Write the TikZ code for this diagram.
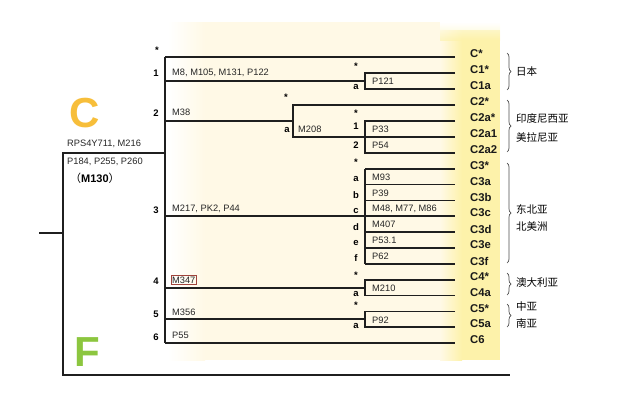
\documentclass[tikz,border=0pt]{standalone}
\usepackage{fontspec}
\setmainfont{Liberation Sans}
\newfontfamily\cjk{Noto Sans CJK SC}
\usetikzlibrary{decorations.pathreplacing}
\definecolor{cream}{HTML}{FFF9E6}
\definecolor{bandyellow}{HTML}{FDF2AA}
\definecolor{cyellow}{HTML}{F7BE3A}
\definecolor{fgreen}{HTML}{8CC63F}
\definecolor{boxred}{HTML}{A0443C}
\begin{document}
\begin{tikzpicture}[x=1pt,y=-1pt,
  tree/.style={line width=1.4pt, draw=black!88},
  mk/.style={font=\fontsize{9.3}{10}\selectfont, anchor=west, inner sep=0pt, text=black!85},
  num/.style={font=\bfseries\fontsize{9.5}{10}\selectfont, inner sep=0pt},
  hap/.style={font=\bfseries\fontsize{11.3}{12}\selectfont, anchor=west, inner sep=0pt, text=black!90},
  reg/.style={font=\cjk\fontsize{10.5}{11}\selectfont, anchor=west, inner sep=0pt},
  brc/.style={decorate, decoration={brace, amplitude=4pt}, line width=0.7pt, draw=black!70},
  big/.style={font=\bfseries\fontsize{42}{42}\selectfont, inner sep=0pt}]
\useasboundingbox (0,0) rectangle (624,407);
% background
\shade[left color=white, right color=cream] (168,22) rectangle (205,360);
\fill[cream] (205,22) rectangle (440,360);
\shade[left color=cream, right color=bandyellow] (440,30) rectangle (462,360);
\fill[bandyellow] (462,30) rectangle (500,360);
\shade[top color=white, bottom color=bandyellow, opacity=0.6] (440,22) rectangle (500,40);
% big letters
\node[big, text=cyellow] (bigC) at (85,113) {C};
\node[big, text=fgreen] (bigF) at (87,352) {F};
% coordinates
\coordinate (stubL) at (39,233);
\coordinate (stubR) at (63,233);
\coordinate (rootT) at (63,153);
\coordinate (rootB) at (63,375);
\coordinate (baseR) at (510,375);
\coordinate (mainJ) at (165,153);
\coordinate (mainT) at (165,57);
\coordinate (mainB) at (165,343);
% root
\draw[tree] (stubL) -- (stubR);
\draw[tree] (mainJ) -- (rootT) -- (rootB) -- (baseR);
\draw[tree] (mainT) -- (mainB);
% C*
\draw[tree] (mainT) -- (455,57);
% clade 1
\draw[tree] (165,81) -- (365,81);
\draw[tree] (455,73) -- (365,73) -- (365,89) -- (455,89);
% clade 2
\draw[tree] (165,121) -- (293,121);
\draw[tree] (455,105) -- (293,105) -- (293,137) -- (365,137);
\draw[tree] (455,121) -- (365,121) -- (365,153) -- (455,153);
\draw[tree] (365,137) -- (455,137);
% clade 3
\draw[tree] (165,216) -- (455,216);
\draw[tree] (365,169) -- (365,264);
\foreach \yy in {169,184.5,200.5,232,248,264} \draw[tree] (365,\yy) -- (455,\yy);
% clade 4
\draw[tree] (165,288) -- (365,288);
\draw[tree] (455,280) -- (365,280) -- (365,295.5) -- (455,295.5);
% clade 5
\draw[tree] (165,319) -- (365,319);
\draw[tree] (455,311.5) -- (365,311.5) -- (365,327) -- (455,327);
% C6
\draw[tree] (mainB) -- (455,343);
% root labels
\node[mk] (r1) at (67,144) {RPS4Y711, M216};
\node[mk] (r2) at (67,162) {P184, P255, P260};
\node[anchor=west, inner sep=0pt] (r3) at (70,178) {{\cjk\fontsize{11}{11}\selectfont （}{\bfseries\fontsize{11}{11}\selectfont M130}{\cjk\fontsize{11}{11}\selectfont ）}};
% clade numbers and markers
\node[num] (s0) at (157,50) {*};
\node[num] (n1) at (156,73) {1};
\node[mk] (m1) at (172,72.5) {M8, M105, M131, P122};
\node[num] (s1) at (356,66) {*};
\node[num] (a1) at (356,87) {a};
\node[mk] (p121) at (372,81) {P121};
\node[num] (n2) at (156,113) {2};
\node[mk] (m38) at (172,112.5) {M38};
\node[num] (s2) at (286,97) {*};
\node[num] (a2) at (287,130) {a};
\node[mk] (m208) at (298,129.5) {M208};
\node[num] (s2a) at (356,113) {*};
\node[num] (o2a1) at (356,126) {1};
\node[mk] (p33) at (372,129) {P33};
\node[num] (o2a2) at (356,145) {2};
\node[mk] (p54) at (372,145) {P54};
\node[num] (n3) at (156,210) {3};
\node[mk] (m217) at (172,209) {M217, PK2, P44};
\node[num] (s3) at (356,162) {*};
\node[num] (a3) at (356,179) {a};
\node[num] (b3) at (356,195) {b};
\node[num] (c3) at (356,211) {c};
\node[num] (d3) at (356,227) {d};
\node[num] (e3) at (356,243) {e};
\node[num] (f3) at (356,258) {f};
\node[mk] (m93) at (372,177) {M93};
\node[mk] (p39) at (372,193) {P39};
\node[mk] (m48) at (372,208.5) {M48, M77, M86};
\node[mk] (m407) at (372,224.5) {M407};
\node[mk] (p53) at (372,240.5) {P53.1};
\node[mk] (p62) at (372,256.5) {P62};
\node[num] (n4) at (156,281) {4};
\node[mk, draw=boxred, line width=0.6pt, inner sep=1.3pt] (m347) at (170.5,280) {M347};
\node[num] (s4) at (356,275) {*};
\node[num] (a4) at (356,294) {a};
\node[mk] (m210) at (372,288.5) {M210};
\node[num] (n5) at (156,314) {5};
\node[mk] (m356) at (172,312.5) {M356};
\node[num] (s5) at (356,305) {*};
\node[num] (a5) at (356,326) {a};
\node[mk] (p92) at (372,320.5) {P92};
\node[num] (n6) at (156,337) {6};
\node[mk] (p55) at (172,335.5) {P55};
% haplogroup labels
\foreach \lab/\yy [count=\i] in {C*/57,C1*/73,C1a/89,C2*/105,C2a*/121,C2a1/137,C2a2/153,C3*/169,C3a/184.5,C3b/200.5,C3c/216,C3d/232,C3e/248,C3f/264,C4*/280,C4a/295.5,C5*/311.5,C5a/327,C6/343}
  \node[hap] (h\i) at (470,\yy-3) {\lab};
% braces
\draw[brc] (507,53) -- (507,90);
\draw[brc] (507,100) -- (507,152);
\draw[brc] (507,163) -- (507,263);
\draw[brc] (507,273) -- (507,295);
\draw[brc] (507,304) -- (507,327);
\node[reg] (jp) at (516,72) {日本};
\node[reg] (id) at (516,118) {印度尼西亚};
\node[reg] (ml) at (516,137) {美拉尼亚};
\node[reg] (ne) at (516,209) {东北亚};
\node[reg] (na) at (516,226) {北美洲};
\node[reg] (au) at (516,283) {澳大利亚};
\node[reg] (ca) at (516,307) {中亚};
\node[reg] (sa) at (516,324) {南亚};
\end{tikzpicture}
\end{document}
